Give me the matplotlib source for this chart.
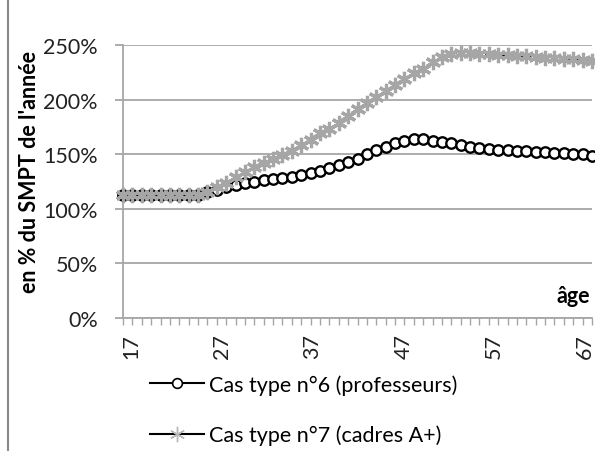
import matplotlib
matplotlib.use("Agg")
import matplotlib.pyplot as plt
import matplotlib.transforms as mtransforms
from matplotlib.ticker import MultipleLocator, FixedLocator
from matplotlib.lines import Line2D

ages = list(range(17, 68))
prof = [113, 113, 113, 113, 113, 113, 113, 113, 113, 115, 117, 120, 122, 124, 125, 126, 127, 128,
        129.5, 131, 133, 135, 137.5, 140, 143, 146, 150, 154, 157, 160, 162, 163.5, 163.5, 162.5,
        161, 160, 158.5, 157, 155.5, 155, 154, 153.5, 153, 152.5, 152, 152, 151.5, 151, 150.5, 150, 148.5]
cadres = [113, 113, 113, 113, 113, 113, 113, 113, 113, 115, 120, 124, 129, 134, 138, 142, 146, 149,
          153, 158, 163, 169, 173, 179, 185, 191, 197, 202, 208, 213, 219, 224, 228, 234, 239, 242,
          243, 242.5, 242, 241.5, 241, 240.5, 240, 239.5, 239, 238.5, 238, 237.5, 237, 236.5, 235.5]
yticks = [0, 50, 100, 150, 200, 250]
xlabels = [17, 27, 37, 47, 57, 67]
label_prof = "Cas type n°6 (professeurs)"
label_cadres = "Cas type n°7 (cadres A+)"

plt.rcParams['font.family'] = ['Lato', 'DejaVu Sans']
W, H = 595, 452
fig = plt.figure(figsize=(W / 100, H / 100), dpi=100)
ax = fig.add_axes([123/W, 1-319/H, (592-123)/W, (319-46)/H])

grid_c = '#a6a6a6'
star_c = '#a6a6a6'
txt_c = '#222222'
ax.plot(ages, prof, color='black', lw=1.2, marker='o', ms=7.5, mfc='white', mec='black', mew=1.7,
        zorder=3, clip_on=False)
ax.plot(ages, cadres, color='black', lw=1.2, ls=(0, (3, 2)), marker=(6, 2, 0), ms=11, mec=star_c,
        mew=2.3, zorder=4, clip_on=False)

ax.set_xlim(17, 67)
ax.set_ylim(0, 250)
ax.yaxis.set_major_locator(FixedLocator(yticks))
ax.set_yticklabels([f"{v}%" for v in yticks])
ax.xaxis.set_major_locator(FixedLocator(xlabels))
ax.set_xticklabels([str(v) for v in xlabels], rotation=90)
ax.xaxis.set_minor_locator(MultipleLocator(1))
ax.grid(axis='y', color=grid_c, lw=1.3)
ax.set_axisbelow(True)
for s in ['top', 'right']:
    ax.spines[s].set_visible(False)
for s in ['left', 'bottom']:
    ax.spines[s].set_color(grid_c)
    ax.spines[s].set_linewidth(1.3)
ax.tick_params(axis='y', length=6, color=grid_c, width=1.3, labelsize=15.5, pad=12, labelcolor=txt_c)
ax.tick_params(axis='x', which='both', length=5, color=grid_c, width=1.0, labelsize=15.5, pad=6,
               labelcolor=txt_c)

# shift x tick labels slightly (as in the reference rendering)
for lab, age in zip(ax.get_xticklabels(), xlabels):
    dx_px = 8 - 15 * (age - 17) / 50
    lab.set_transform(lab.get_transform() + mtransforms.ScaledTranslation(dx_px / 100, 0, fig.dpi_scale_trans))

fig.text(30/W, 1-172/H, "en % du SMPT de l'année", rotation=90, ha='center', va='center',
         fontsize=15.5, fontweight='bold', color='black')
ax.text(0.995, 0.045, "âge", transform=ax.transAxes, ha='right', va='bottom', fontsize=15.5,
        fontweight='bold')

h1 = Line2D([], [], color='black', lw=1.5, marker='o', ms=7, mfc='white', mec='black', mew=1.2)
h2 = Line2D([], [], color='black', lw=1.5, marker=(6, 2, 0), ms=11, mec='#b8b8b8', mew=1.0)
fig.legend([h1, h2], [label_prof, label_cadres], loc='upper left', bbox_to_anchor=(150/W, 1-375/H),
           frameon=False, fontsize=15.5, handlelength=2.5, handletextpad=0.25, labelspacing=1.4,
           borderpad=0, borderaxespad=0)

fig.add_artist(Line2D([8/W, 8/W], [0, 1], transform=fig.transFigure, color='#888888', lw=1.5))

fig.savefig("out.png", dpi=100)
